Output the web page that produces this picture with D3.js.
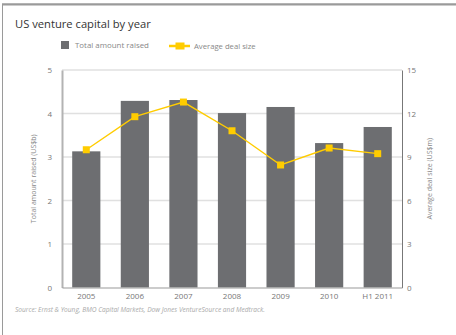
<!DOCTYPE html>
<html>
<head>
<meta charset="utf-8">
<script src="https://cdn.jsdelivr.net/npm/d3@7"></script>
<style>
  html, body { margin: 0; padding: 0; background: #fff; }
  svg { display: block; font-family: "Open Sans", "DejaVu Sans", sans-serif; }
</style>
</head>
<body>
<svg id="chart" width="456" height="335"></svg>
<script>
// Years on the x axis
const years = ["2005", "2006", "2007", "2008", "2009", "2010", "H1 2011"];
// Total amount raised, US$b (bars, left axis)
const totalRaised = [3.13, 4.29, 4.31, 4.01, 4.15, 3.32, 3.69];
// Average deal size, US$m (line, right axis)
const avgDealSize = [9.5, 11.78, 12.79, 10.81, 8.45, 9.62, 9.23];
// Axis ticks
const leftTicks = [0, 1, 2, 3, 4, 5];
const rightTicks = [0, 3, 6, 9, 12, 15];

const svg = d3.select("#chart");
const W = 456, H = 335;
const m = { left: 62, right: 402, top: 70, bottom: 287.5 };

const barColor = "#6d6e71";
const lineColor = "#ffcc00";

// Frame around the figure
svg.append("rect")
  .attr("x", 2.5).attr("y", 4)
  .attr("width", W + 10).attr("height", H + 10)
  .attr("fill", "none").attr("stroke", "#9a9a9a").attr("stroke-width", 1);
svg.append("line")
  .attr("x1", 2).attr("x2", W).attr("y1", 4.5).attr("y2", 4.5)
  .attr("stroke", "#9a9a9a").attr("stroke-width", 2);

// Title
svg.append("text")
  .attr("x", 15).attr("y", 28)
  .attr("font-size", 11.2).attr("fill", "#333")
  .text("US venture capital by year");

// Scales
const x = d3.scaleBand().domain(years).range([m.left, m.right]).paddingInner(0.42).paddingOuter(0.21);
const yL = d3.scaleLinear().domain([0, 5]).range([m.bottom, m.top]);
const yR = d3.scaleLinear().domain([0, 15]).range([m.bottom, m.top]);

// Gridlines
svg.append("g")
  .selectAll("line")
  .data(leftTicks.filter(d => d > 0))
  .join("line")
  .attr("x1", m.left).attr("x2", m.right)
  .attr("y1", d => yL(d)).attr("y2", d => yL(d))
  .attr("stroke", "#e0e0e0").attr("stroke-width", 1.3);

// Bars
svg.append("g")
  .selectAll("rect")
  .data(years)
  .join("rect")
  .attr("x", d => x(d))
  .attr("width", x.bandwidth())
  .attr("y", (d, i) => yL(totalRaised[i]))
  .attr("height", (d, i) => m.bottom - yL(totalRaised[i]))
  .attr("fill", barColor);

// Axes
const leftAxis = svg.append("g")
  .attr("transform", `translate(${m.left},0)`)
  .call(d3.axisLeft(yL).tickValues(leftTicks).tickFormat(d3.format("d")).tickSize(0).tickPadding(10));
leftAxis.select(".domain").attr("stroke", "#b3b3b3").attr("stroke-width", 2);

const rightAxis = svg.append("g")
  .attr("transform", `translate(${m.right},0)`)
  .call(d3.axisRight(yR).tickValues(rightTicks).tickFormat(d3.format("d")).tickSize(0).tickPadding(5));
rightAxis.select(".domain").attr("stroke", "#777").attr("stroke-width", 1);

const bottomAxis = svg.append("g")
  .attr("transform", `translate(0,${m.bottom})`)
  .call(d3.axisBottom(x).tickSize(0).tickPadding(6));
bottomAxis.select(".domain").attr("stroke", "#999").attr("stroke-width", 1.2);

svg.selectAll(".tick text")
  .attr("font-size", 8).attr("fill", "#777")
  .attr("font-family", "'Open Sans', 'DejaVu Sans', sans-serif");

// Axis titles
svg.append("text")
  .attr("transform", `translate(36,${(m.top + m.bottom) / 2}) rotate(-90)`)
  .attr("text-anchor", "middle")
  .attr("font-size", 7).attr("fill", "#888")
  .text("Total amount raised (US$b)");
svg.append("text")
  .attr("transform", `translate(432,${(m.top + m.bottom) / 2}) rotate(-90)`)
  .attr("text-anchor", "middle")
  .attr("font-size", 7).attr("fill", "#888")
  .text("Average deal size (US$m)");

// Line series
const cx = d => x(d) + x.bandwidth() / 2;
svg.append("path")
  .datum(years)
  .attr("d", d3.line().x(d => cx(d)).y((d, i) => yR(avgDealSize[i])))
  .attr("fill", "none").attr("stroke", lineColor).attr("stroke-width", 1.4);
svg.append("g")
  .selectAll("rect")
  .data(years)
  .join("rect")
  .attr("x", d => cx(d) - 3.5)
  .attr("y", (d, i) => yR(avgDealSize[i]) - 3.5)
  .attr("width", 7).attr("height", 7)
  .attr("fill", lineColor);

// Legend
const lg = svg.append("g");
lg.append("rect").attr("x", 61).attr("y", 41).attr("width", 8).attr("height", 8).attr("fill", barColor);
lg.append("text").attr("x", 75).attr("y", 48).attr("font-size", 7.9).attr("fill", "#888").text("Total amount raised");
lg.append("line").attr("x1", 169).attr("x2", 190).attr("y1", 46).attr("y2", 46)
  .attr("stroke", lineColor).attr("stroke-width", 2.5);
lg.append("rect").attr("x", 175.5).attr("y", 42.5).attr("width", 9).attr("height", 7).attr("fill", lineColor);
lg.append("text").attr("x", 194).attr("y", 49).attr("font-size", 7.7).attr("fill", "#888").text("Average deal size");

// Source note
svg.append("text")
  .attr("x", 15).attr("y", 312)
  .attr("font-size", 6.6).attr("font-style", "italic").attr("fill", "#aaa")
  .text("Source: Ernst & Young, BMO Capital Markets, Dow Jones VentureSource and Medtrack.");
</script>
</body>
</html>
